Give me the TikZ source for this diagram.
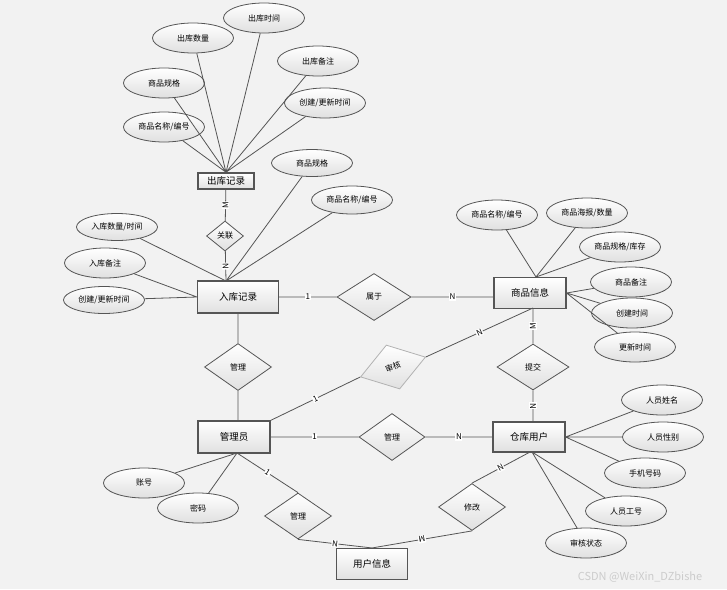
\documentclass[tikz,border=0pt]{standalone}
\usepackage{fontspec}
\setmainfont{Noto Sans CJK SC}
\usetikzlibrary{shapes.geometric}
\definecolor{bgc}{HTML}{F2F2F2}
\definecolor{lnc}{HTML}{555555}
\definecolor{shd}{HTML}{E0E0E0}

\begin{document}
\begin{tikzpicture}[x=1pt,y=-1pt,
    ent/.style={rectangle,draw=lnc,line width=1.1pt,top color=white,bottom color=shd,text=black,
      minimum width=72pt,minimum height=31pt,inner sep=0pt,font=\fontsize{9.5}{10}\selectfont},
    attr/.style={ellipse,draw=lnc,line width=0.8pt,top color=white,bottom color=shd,text=black,
      minimum width=81pt,minimum height=30pt,inner sep=0pt,font=\fontsize{8}{9}\selectfont},
    rel/.style={diamond,draw=lnc,line width=0.8pt,top color=white,bottom color=shd,text=black,
      minimum width=67pt,minimum height=47pt,inner sep=0pt,font=\fontsize{8}{9}\selectfont},
    conn/.style={draw=lnc,line width=0.8pt},
    lbl/.style={midway,sloped,fill=white,text=black,inner sep=0.6pt,font=\fontsize{8}{9}\selectfont}]
        \fill[bgc] (0,0) rectangle (727,589);
        % entities
        \draw (226,181) node[ent,minimum width=56pt,minimum height=16pt,line width=1.5pt] (ck) {出库记录};
        \draw (238,297) node[ent,minimum width=81pt,minimum height=32pt] (rk) {入库记录};
        \draw (530,293) node[ent] (sp) {商品信息};
        \draw (234,437) node[ent,minimum height=32pt] (gly) {管理员};
        \draw (529,437) node[ent,minimum height=30pt] (ckyh) {仓库用户};
        \draw (372,564) node[ent,minimum width=71pt] (yh) {用户信息};
        % relations
        \draw (225,236) node[rel,minimum width=37pt,minimum height=30pt] (gl) {关联};
        \draw (374,297) node[rel,minimum width=74pt] (sy) {属于};
        \draw (393,367) node[rel,minimum width=68pt,minimum height=46pt,rotate=17,draw=lnc!45] (sh) {审核};
        \draw (533,367) node[rel,minimum width=72pt,minimum height=46pt] (tj) {提交};
        \draw (238,367) node[rel] (gl1) {管理};
        \draw (392,437) node[rel,minimum width=66pt] (gl2) {管理};
        \draw (298,516) node[rel,minimum height=46pt] (gl3) {管理};
        \draw (472,507) node[rel] (xg) {修改};
        % attributes
        \draw (264,18)  node[attr] (ck1) {出库时间};
        \draw (193,38)  node[attr] (ck2) {出库数量};
        \draw (318,61)  node[attr] (ck3) {出库备注};
        \draw (164,83)  node[attr] (ck4) {商品规格};
        \draw (325,103) node[attr] (ck5) {创建/更新时间};
        \draw (164,127) node[attr] (ck6) {商品名称/编号};
        \draw (117,227) node[attr,minimum height=27pt] (rk1) {入库数量/时间};
        \draw (105,263) node[attr] (rk2) {入库备注};
        \draw (104,300) node[attr,minimum height=27pt] (rk3) {创建/更新时间};
        \draw (312,163) node[attr,minimum height=27pt] (rk4) {商品规格};
        \draw (352,200) node[attr,minimum height=28pt] (rk5) {商品名称/编号};
        \draw (497,215) node[attr] (sp1) {商品名称/编号};
        \draw (587,213) node[attr] (sp2) {商品海报/数量};
        \draw (620,247) node[attr] (sp3) {商品规格/库存};
        \draw (631,282) node[attr] (sp4) {商品备注};
        \draw (632,313) node[attr] (sp5) {创建时间};
        \draw (635,347) node[attr] (sp6) {更新时间};
        \draw (144,483) node[attr] (gly1) {账号};
        \draw (198,508) node[attr] (gly2) {密码};
        \draw (662,400) node[attr] (ckyh1) {人员姓名};
        \draw (663,437) node[attr] (ckyh2) {人员性别};
        \draw (645,473) node[attr] (ckyh3) {手机号码};
        \draw (626,511) node[attr] (ckyh4) {人员工号};
        \draw (586,543) node[attr] (ckyh5) {审核状态};
        % meeting points
        \coordinate (rkin) at (226,281);
        \coordinate (sptop) at (536,277);
        \coordinate (spbot) at (533,308);
        \coordinate (glybot) at (237,453);
        \coordinate (ckbot) at (532,452);
        % attribute lines
        \draw[conn] (ck1) -- (ck.north) (ck2) -- (ck.north) (ck3) -- (ck.north)
              (ck4) -- (ck.north) (ck5) -- (ck.north) (ck6) -- (ck.north)
              (rk1) -- (rkin) (rk4) -- (rkin) (rk5) -- (rkin)
              (rk2) -- (rk.west) (rk3) -- (rk.west)
              (sp1) -- (sptop) (sp2) -- (sptop) (sp3) -- (sptop)
              (sp4) -- (sp.east) (sp5) -- (sp.east) (sp6) -- (sp.east)
              (gly1) -- (glybot) (gly2) -- (glybot)
              (ckyh1) -- (ckyh.east) (ckyh2) -- (ckyh.east) (ckyh3) -- (ckyh.east)
              (ckyh4) -- (ckbot) (ckyh5) -- (ckbot);
        % relation lines
        \draw[conn] (gl) -- (ck) node[lbl] {M}
              (gl) -- (rkin) node[lbl] {N}
              (rk.east) -- (sy) node[lbl] {1}
              (sy) -- (sy -| sp.west) node[lbl] {N}
              (gly.north east) -- (sh.west) node[lbl] {1}
              (sh.east) -- (spbot) node[lbl] {N}
              (tj) -- (spbot) node[lbl] {M}
              (tj.south) -- (tj.south |- ckyh.north) node[lbl] {N}
              (gl1) -- (rk.south)
              (gl1.south) -- (gl1.south |- gly.north)
              (gly.east) -- (gl2) node[lbl] {1}
              (gl2) -- (ckyh.west) node[lbl] {N}
              (glybot) -- (gl3.north) node[lbl] {1}
              (gl3.south) -- (yh.north) node[lbl] {N}
              (ckyh.south) -- (xg.north) node[lbl] {N}
              (xg.south) -- (yh.north) node[lbl,allow upside down] {M};
        \node[text=black!20,font=\fontsize{11}{12}\selectfont] (wm) at (640,577) {CSDN @WeiXin\_DZbishe};
    \end{tikzpicture}
\end{document}
